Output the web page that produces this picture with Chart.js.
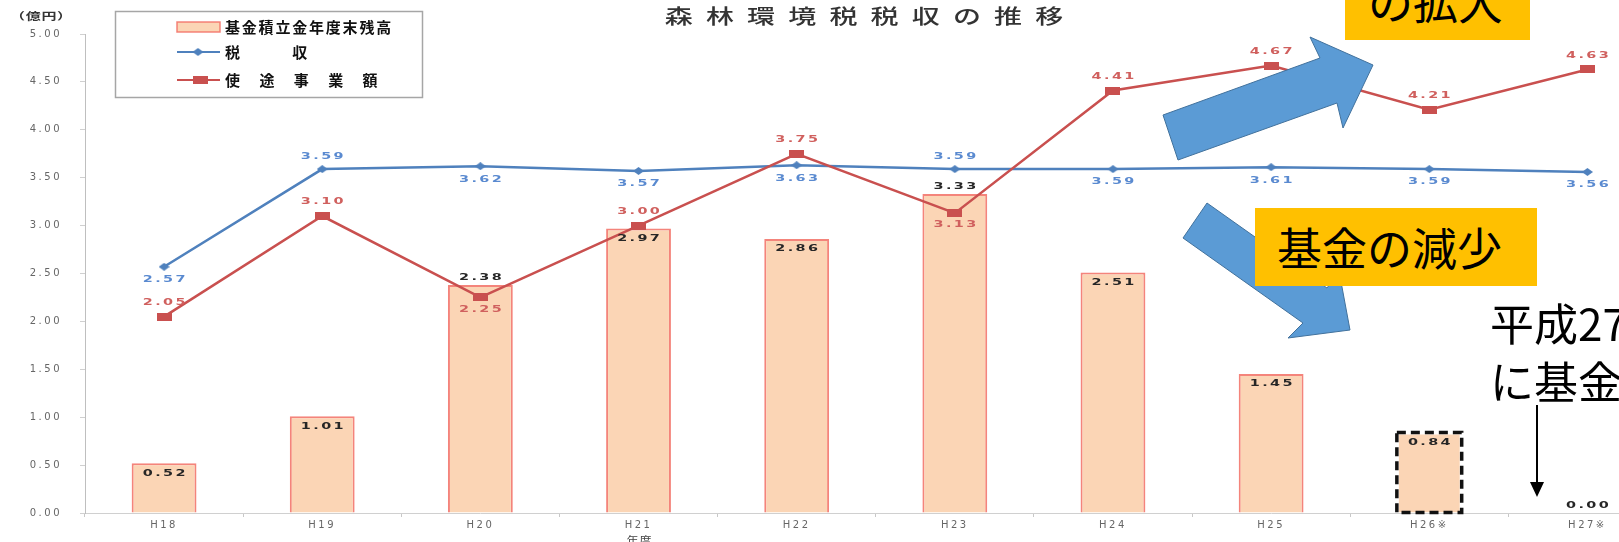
<!DOCTYPE html>
<html>
<head>
<meta charset="utf-8">
<script src="https://cdn.jsdelivr.net/npm/chart.js@4.4.1/dist/chart.umd.min.js"></script>
<style>
html, body { margin:0; padding:0; width:1619px; height:542px; overflow:hidden; background:#fff; }
#wrap { position:absolute; left:0; top:0; width:1674px; height:542px; }
#arrows { position:absolute; left:0; top:0; }
.note { position:absolute; box-sizing:border-box; background:#FFC000; color:#000;
  font-family:"Noto Sans CJK JP"; font-size:45px; line-height:78px; height:78px; white-space:nowrap; }
.plain { position:absolute; color:#000; font-family:"Noto Sans CJK JP"; font-size:44px; line-height:58px; white-space:nowrap; }
</style>
</head>
<body>
<div id="wrap"><canvas id="taxChart"></canvas></div>

<svg id="arrows" width="1619" height="542">
  <polygon points="1163,115 1320,58 1310,37 1373,65 1343,128 1337,103 1178,160" fill="#5B9BD5" stroke="#41719C" stroke-width="1"/>
  <polygon points="1207,203 1327,288 1339,271 1350,330 1288,338 1303,323 1183,238" fill="#5B9BD5" stroke="#41719C" stroke-width="1"/>
  <line x1="1537" y1="405" x2="1537" y2="484" stroke="#000" stroke-width="2"/>
  <polygon points="1530,482 1544,482 1537,497" fill="#000"/>
</svg>

<div class="note" style="left:1345px;top:-38px;width:185px;padding-left:23px;">の拡大</div>
<div class="note" style="left:1255px;top:208px;width:282px;padding-left:22px;">基金の減少</div>
<div class="plain" style="left:1490px;top:293px;">平成27<br>に基金</div>

<script>
// 年度
const categories = ['H18', 'H19', 'H20', 'H21', 'H22', 'H23', 'H24', 'H25', 'H26※', 'H27※'];
// 基金積立金年度末残高 (億円)
const fundBalance = [0.52, 1.01, 2.38, 2.97, 2.86, 3.33, 2.51, 1.45, 0.84, 0.00];
// 税収
const taxRevenue = [2.57, 3.59, 3.62, 3.57, 3.63, 3.59, 3.59, 3.61, 3.59, 3.56];
// 使途事業額
const projectCost = [2.05, 3.10, 2.25, 3.00, 3.75, 3.13, 4.41, 4.67, 4.21, 4.63];
const yTickValues = [0, 0.5, 1, 1.5, 2, 2.5, 3, 3.5, 4, 4.5, 5];

// where each value label sits
const fundLabelSide = ['in', 'in', 'above', 'in', 'in', 'above', 'in', 'in', 'in', 'above'];
const taxLabelSide = ['below', 'above', 'below', 'below', 'below', 'above', 'below', 'below', 'below', 'below'];
const costLabelSide = ['above', 'above', 'below', 'above', 'above', 'below', 'above', 'above', 'above', 'above'];

const BAR_FILL = '#FBD5B5';
const BAR_EDGE = 'rgba(242,110,100,0.85)';
const BLUE = '#4F81BD';
const RED = '#C9504F';

// marker images
function makeDiamond() {
    const c = document.createElement('canvas');
    c.width = 11; c.height = 8;
    const g = c.getContext('2d');
    g.fillStyle = BLUE;
    g.beginPath();
    g.moveTo(5.5, 0); g.lineTo(11, 4); g.lineTo(5.5, 8); g.lineTo(0, 4);
    g.closePath(); g.fill();
    return c;
}
function makeRect() {
    const c = document.createElement('canvas');
    c.width = 15; c.height = 8;
    const g = c.getContext('2d');
    g.fillStyle = RED;
    g.fillRect(0, 0, 15, 8);
    return c;
}
const diamond = makeDiamond();
const redRect = makeRect();

function stretchText(ctx, text, x, y, o) {
    ctx.save();
    ctx.font = o.font;
    ctx.fillStyle = o.color;
    ctx.letterSpacing = (o.ls || 0) + 'px';
    ctx.textAlign = o.align || 'center';
    ctx.textBaseline = 'middle';
    ctx.translate(x, y);
    ctx.scale(o.sx || 1, 1);
    const shift = (o.align || 'center') === 'center' ? (o.ls || 0) / 2 : 0;
    ctx.fillText(text, shift, 0);
    ctx.restore();
}

const extrasPlugin = {
    id: 'extras',
    beforeDraw(chart) {
        chart.ctx.letterSpacing = '2.5px';
    },
    afterDatasetsDraw(chart) {
        const ctx = chart.ctx;
        // dashed outline on H26 bar
        const barMeta = chart.getDatasetMeta(0);
        const b = barMeta.data[8].getProps(['x', 'y', 'base', 'width'], true);
        ctx.save();
        ctx.setLineDash([9, 5]);
        ctx.lineWidth = 3.5;
        ctx.strokeStyle = '#111';
        ctx.strokeRect(b.x - b.width / 2, b.y, b.width, b.base - b.y);
        ctx.restore();

        const labelFont = "bold 9px 'DejaVu Sans'";
        barMeta.data.forEach((el, i) => {
            const off = fundLabelSide[i] === 'in' ? 10 : -7;
            stretchText(ctx, fundBalance[i].toFixed(2), el.x, el.y + off,
                {font: labelFont, color: '#262626', sx: 1.6, ls: 1.5});
        });
        chart.getDatasetMeta(1).data.forEach((el, i) => {
            const off = taxLabelSide[i] === 'above' ? -12 : 13;
            stretchText(ctx, taxRevenue[i].toFixed(2), el.x, el.y + off,
                {font: labelFont, color: '#5A8AD0', sx: 1.6, ls: 1.5});
        });
        chart.getDatasetMeta(2).data.forEach((el, i) => {
            const off = costLabelSide[i] === 'above' ? -14 : 12;
            stretchText(ctx, projectCost[i].toFixed(2), el.x, el.y + off,
                {font: labelFont, color: '#D0605E', sx: 1.6, ls: 1.5});
        });
    },
    afterDraw(chart) {
        const ctx = chart.ctx;
        // title
        stretchText(ctx, '森林環境税税収の推移', 864, 16,
            {font: "500 20px 'Noto Sans CJK JP'", color: '#333', sx: 1.4, ls: 9.4});
        // unit
        stretchText(ctx, '（億円）', 41, 16,
            {font: "bold 10px 'Noto Sans CJK JP'", color: '#333', sx: 1.5, ls: 0.5});
        // x title
        stretchText(ctx, '年度', 639, 540,
            {font: "10px 'Noto Sans CJK JP'", color: '#444', sx: 1.2, ls: 1});

        // legend
        ctx.save();
        ctx.letterSpacing = '0px';
        ctx.strokeStyle = '#a6a6a6';
        ctx.lineWidth = 1.5;
        ctx.strokeRect(115.5, 11.5, 307, 86);

        ctx.fillStyle = BAR_FILL;
        ctx.fillRect(177, 22, 43, 10);
        ctx.strokeStyle = BAR_EDGE;
        ctx.lineWidth = 1.5;
        ctx.strokeRect(177, 22, 43, 10);

        ctx.strokeStyle = BLUE;
        ctx.lineWidth = 2;
        ctx.beginPath(); ctx.moveTo(177, 52); ctx.lineTo(220, 52); ctx.stroke();
        ctx.drawImage(diamond, 198 - 5.5, 52 - 4);

        ctx.strokeStyle = RED;
        ctx.beginPath(); ctx.moveTo(177, 80); ctx.lineTo(220, 80); ctx.stroke();
        ctx.drawImage(redRect, 200 - 7.5, 80 - 4);
        ctx.restore();

        const legFont = "bold 15px 'Noto Sans CJK JP'";
        stretchText(ctx, '基金積立金年度末残高', 225, 27, {font: legFont, color: '#111', align: 'left', ls: 1.8});
        stretchText(ctx, '税　　　収', 225, 52, {font: legFont, color: '#111', align: 'left', ls: 1.8});
        stretchText(ctx, '使　途　事　業　額', 225, 80, {font: legFont, color: '#111', align: 'left', ls: 2.2});
    }
};

const ctx = document.getElementById('taxChart').getContext('2d');
const taxChart = new Chart(ctx, {
    data: {
        labels: categories,
        datasets: [{
            type: 'bar',
            label: '基金積立金年度末残高',
            data: fundBalance,
            backgroundColor: BAR_FILL,
            borderColor: categories.map((c, i) => i === 8 ? 'rgba(0,0,0,0)' : BAR_EDGE),
            borderWidth: 2,
            borderSkipped: 'bottom',
            categoryPercentage: 1,
            barPercentage: 0.41,
            order: 3
        }, {
            type: 'line',
            label: '税収',
            data: taxRevenue,
            borderColor: BLUE,
            borderWidth: 2.5,
            tension: 0,
            pointStyle: diamond,
            pointRadius: 5,
            order: 2
        }, {
            type: 'line',
            label: '使途事業額',
            data: projectCost,
            borderColor: RED,
            borderWidth: 2.5,
            tension: 0,
            pointStyle: redRect,
            pointRadius: 5,
            order: 1
        }]
    },
    options: {
        responsive: true,
        maintainAspectRatio: false,
        animation: false,
        layout: { padding: { top: 34, left: 0, right: 1, bottom: 0 } },
        plugins: {
            legend: { display: false },
            tooltip: { enabled: false }
        },
        scales: {
            x: {
                afterFit: s => { s.height = 29; },
                border: { color: '#d0d0d0' },
                grid: { drawOnChartArea: false, tickLength: 4, offset: true, color: '#c8c8c8' },
                ticks: { padding: 2, color: '#666', font: { size: 10, family: "'DejaVu Sans'" } }
            },
            y: {
                min: 0,
                max: 5,
                afterBuildTicks: s => { s.ticks = yTickValues.map(v => ({ value: v })); },
                afterFit: s => { s.width = 85; },
                border: { color: '#bfbfbf' },
                grid: { drawOnChartArea: false, tickLength: 5, color: '#d0d0d0' },
                ticks: {
                    padding: 18,
                    color: '#666',
                    font: { size: 10, family: "'DejaVu Sans'" },
                    callback: v => Number(v).toFixed(2)
                }
            }
        }
    },
    plugins: [extrasPlugin]
});
</script>
</body>
</html>
